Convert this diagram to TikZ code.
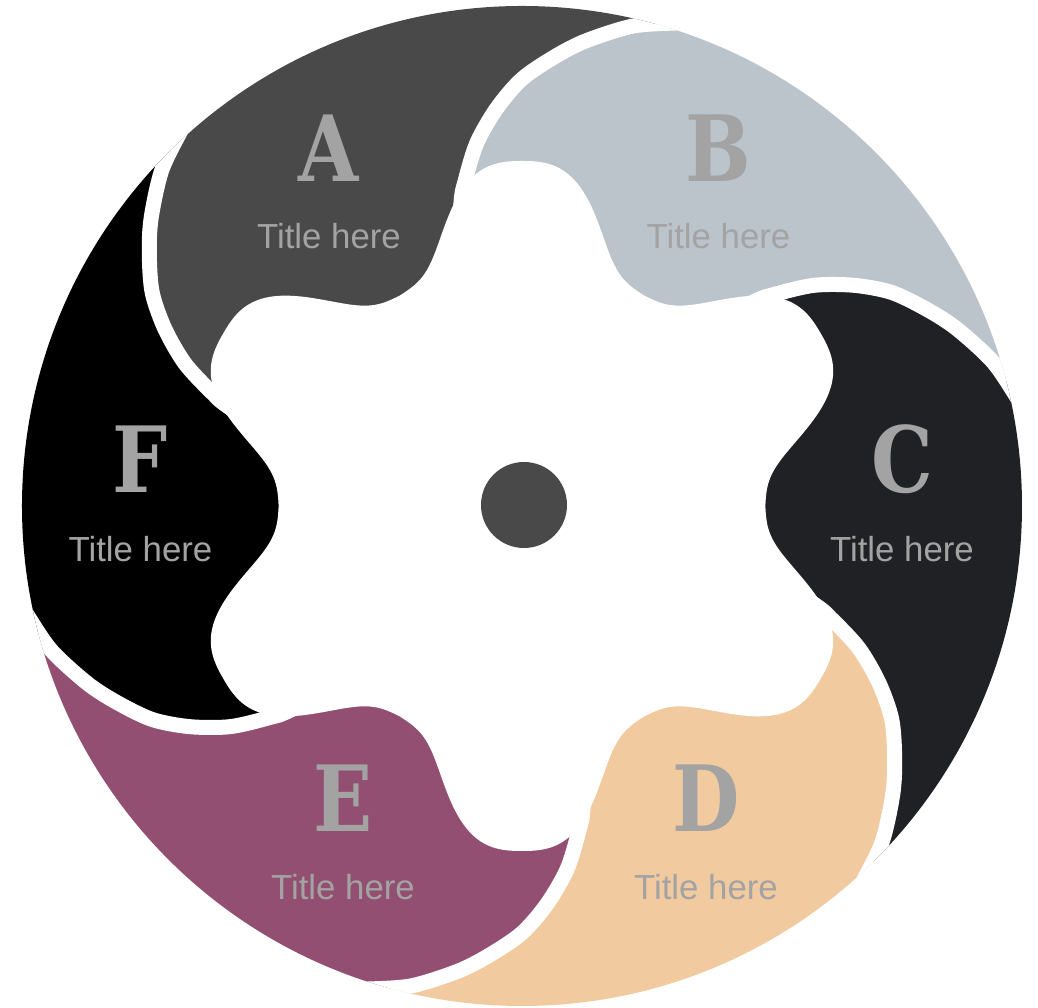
\documentclass[tikz,border=0pt]{standalone}
\usepackage{fontspec}
\usepackage{tikz}
\usetikzlibrary{positioning}
\newfontfamily\letterfont{DejaVu Serif}[FakeStretch=0.85]
\newfontfamily\titlefont{Liberation Sans}
\definecolor{bladeA}{HTML}{494949}
\definecolor{bladeB}{HTML}{BBC3CB}
\definecolor{bladeC}{HTML}{202125}
\definecolor{bladeD}{HTML}{F1CAA0}
\definecolor{bladeE}{HTML}{934F71}
\definecolor{bladeF}{HTML}{000000}
\definecolor{hubgray}{HTML}{494949}
\definecolor{labelgray}{HTML}{A3A3A3}

\begin{document}
\begin{tikzpicture}[
    gapline/.style={draw=white, line width=0.15cm},
    letter/.style={font=\letterfont\bfseries\fontsize{26}{26}\selectfont, text=labelgray, inner sep=0pt, anchor=base},
    caption/.style={font=\titlefont\fontsize{9.9}{12}\selectfont, text=labelgray, inner sep=0pt},
    hub/.style={circle, fill=hubgray, minimum size=0.86cm, inner sep=0pt}
]
\useasboundingbox (-5.22,-5.02) rectangle (5.16,5.06);

% separator points, one set per blade
\foreach \k in {0,...,5}
  \foreach \a/\r [count=\i] in {69/5.18, 72/5.08, 77/4.925, 82.2/4.694, 85.9/4.501, 90/4.27, 93.6/3.988, 97.1/3.658, 100/3.29, 101.5/3.07, 108/2.16}
    \coordinate (s\k-\i) at ({\a-60*\k}:\r);

\begin{scope}
\clip (0,0) circle (5);
\foreach \k/\col in {0/bladeA, 1/bladeB, 2/bladeC, 3/bladeD, 4/bladeE, 5/bladeF} {
  \pgfmathtruncatemacro\j{mod(\k+5,6)}
  \fill[\col] plot[smooth] coordinates {(s\k-1) (s\k-2) (s\k-3) (s\k-4) (s\k-5) (s\k-6) (s\k-7) (s\k-8) (s\k-9) (s\k-10) (s\k-11)}
    -- (0,0)
    -- plot[smooth] coordinates {(s\j-11) (s\j-10) (s\j-9) (s\j-8) (s\j-7) (s\j-6) (s\j-5) (s\j-4) (s\j-3) (s\j-2) (s\j-1)}
    arc[start angle={129-60*\k}, end angle={69-60*\k}, radius=5.18] -- cycle;
}
\foreach \k in {0,...,5}
  \draw[gapline] plot[smooth] coordinates {(s\k-1) (s\k-2) (s\k-3) (s\k-4) (s\k-5) (s\k-6) (s\k-7) (s\k-8) (s\k-9) (s\k-10) (s\k-11)};
\end{scope}

% white flower in the middle
\fill[white] plot[variable=\t, domain=0:360, samples=721] (\t:{2.43+1.02*exp(-((abs(mod(\t,60)-30)/16.9)^3))}) -- cycle;

\node[hub] (hub) at (0.02,0.01) {};

\node[letter] (letterA) at (-1.93,3.24) {A};
\node[letter] (letterB) at (1.965,3.24) {B};
\node[letter] (letterC) at (3.80,0.13) {C};
\node[letter] (letterD) at (1.84,-3.26) {D};
\node[letter] (letterE) at (-1.79,-3.26) {E};
\node[letter] (letterF) at (-3.815,0.13) {F};

\node[caption, below=0.67cm of letterA.base, anchor=base] (titleA) {Title here};
\node[caption, below=0.67cm of letterB.base, anchor=base] (titleB) {Title here};
\node[caption, below=0.69cm of letterC.base, anchor=base] (titleC) {Title here};
\node[caption, below=0.68cm of letterD.base, anchor=base] (titleD) {Title here};
\node[caption, below=0.68cm of letterE.base, anchor=base] (titleE) {Title here};
\node[caption, below=0.69cm of letterF.base, anchor=base] (titleF) {Title here};

\end{tikzpicture}
\end{document}
